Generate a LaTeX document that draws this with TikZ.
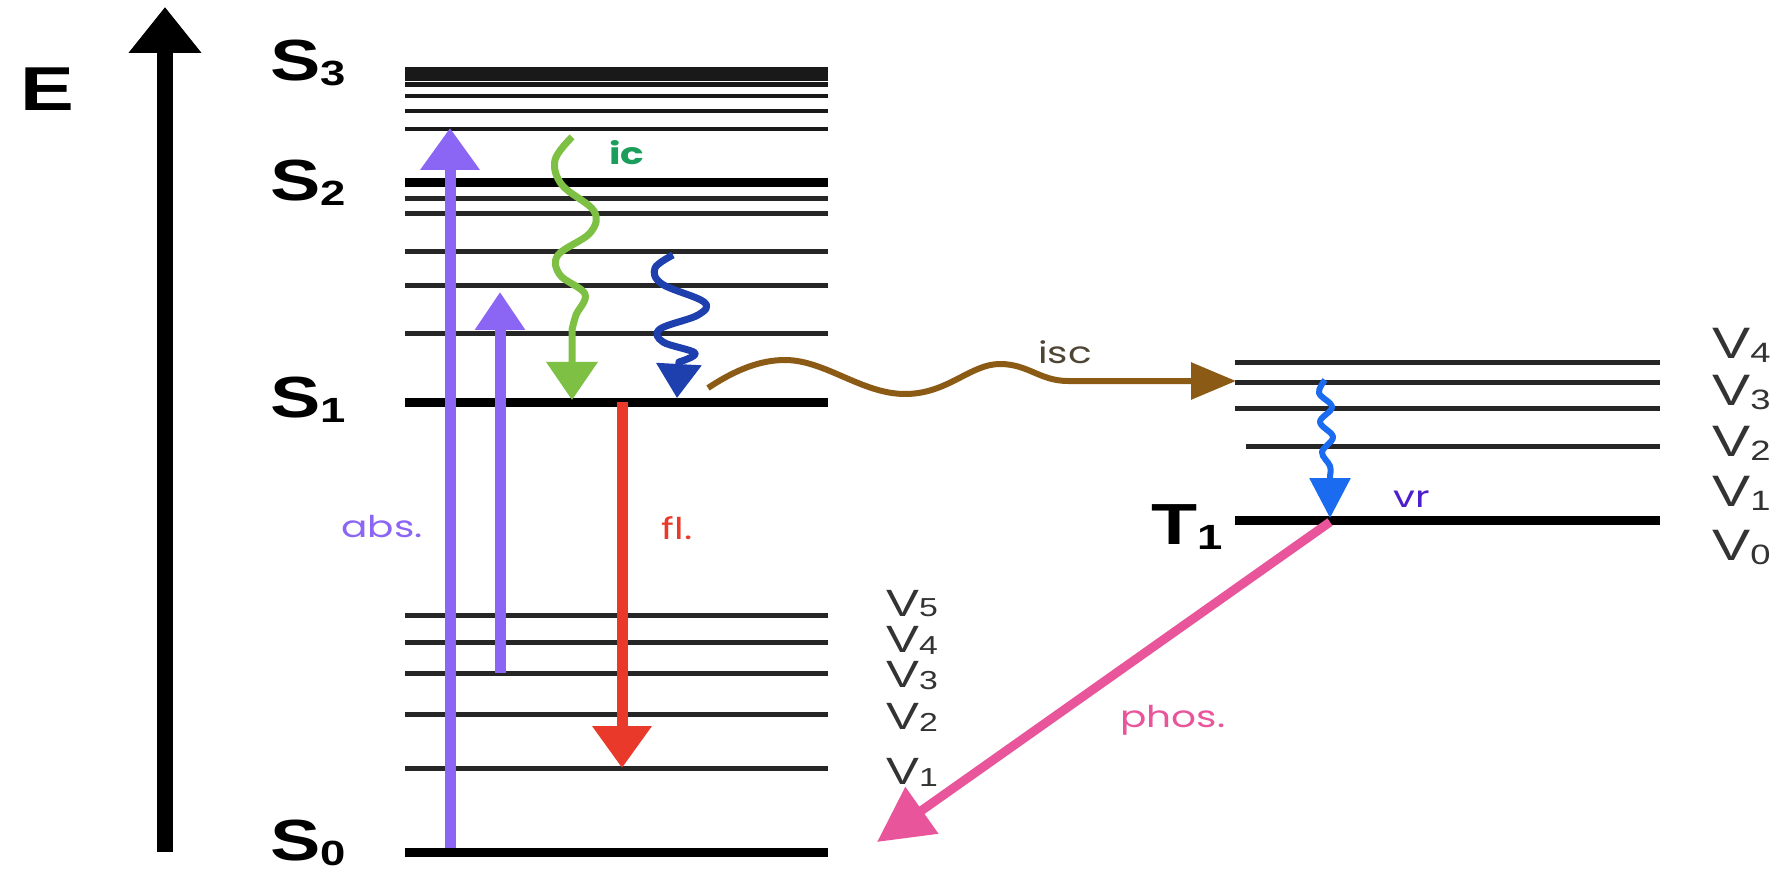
\documentclass[tikz,border=0pt]{standalone}
\usepackage{fontspec}
\setmainfont{Liberation Sans}
\newfontfamily\labfont{Poppins}
\usetikzlibrary{arrows.meta}
\definecolor{absc}{HTML}{8B66F5}
\definecolor{icw}{HTML}{7DC043}
\definecolor{ict}{HTML}{1B9E5B}
\definecolor{dblue}{HTML}{1E3FAE}
\definecolor{flc}{HTML}{E8392A}
\definecolor{iscc}{HTML}{8B5A14}
\definecolor{isct}{HTML}{4F4535}
\definecolor{vrw}{HTML}{1A6BF0}
\definecolor{vrt}{HTML}{4D1FCC}
\definecolor{phc}{HTML}{E8559A}
\definecolor{vgray}{HTML}{333333}
\newcommand{\st}[1]{\scalebox{1.3}[1]{#1}}
\newcommand{\Slab}[2]{\st{\fontsize{58}{58}\selectfont\bfseries #1\raisebox{-5pt}{\fontsize{35}{35}\selectfont #2}}}
\newcommand{\Vlab}[2][-4pt]{\st{\fontsize{44}{44}\selectfont V\raisebox{#1}{\fontsize{28}{28}\selectfont #2}}}
\newcommand{\Vlabs}[2][-2pt]{\st{\fontsize{38}{38}\selectfont V\raisebox{#1}{\fontsize{26}{26}\selectfont #2}}}
\newcommand{\smlab}[1]{\st{\labfont\fontsize{30}{30}\selectfont #1}}
\tikzset{
  lvl/.style={line width=9pt, black},
  sub/.style={line width=5pt, black!85},
  lab/.style={inner sep=0pt, outer sep=0pt},
  vlab/.style={inner sep=0pt, anchor=west, text=vgray},
  wave/.style={line join=round, line cap=butt},
}
\begin{document}
\begin{tikzpicture}[x=1pt,y=-1pt]
\useasboundingbox[fill=white] (0,0) rectangle (1785,874);

% energy axis
\coordinate (Ebot) at (165,852);
\coordinate (Etop) at (165,7);
\draw[line width=16pt, -{Triangle[width=70pt,length=46pt]}] (Ebot) -- (Etop);
\node[lab] (E) at (47,89) {\st{\fontsize{62}{62}\selectfont\bfseries E}};

% left stack: S3 block
\foreach \y/\w in {71/8,78/7,85/5,96/4.5,111/4.5,129/4.5}
  \draw[line width=\w pt, black!90] (405,\y) -- (828,\y);
% S2 block
\draw[lvl] (405,183) coordinate (S2L) -- (828,183) coordinate (S2R);
\foreach \y in {199,214,252,286,334}
  \draw[sub] (405,\y) -- (828,\y);
% S1
\draw[lvl] (405,402) coordinate (S1L) -- (828,402) coordinate (S1R);
% S0 block
\foreach \y in {615,642,673,714,768}
  \draw[sub] (405,\y) -- (828,\y);
\draw[lvl] (405,852) coordinate (S0L) -- (828,852) coordinate (S0R);

% S labels
\node[lab] (s3) at (308,63) {\Slab{S}{3}};
\node[lab] (s2) at (308,183) {\Slab{S}{2}};
\node[lab] (s1) at (308,400) {\Slab{S}{1}};
\node[lab] (s0) at (308,843) {\Slab{S}{0}};

% left vibrational labels
\node[vlab] (lv5) at (886,604) {\Vlabs[0pt]{5}};
\node[vlab] (lv4) at (886,640) {\Vlabs{4}};
\node[vlab] (lv3) at (886,676) {\Vlabs{3}};
\node[vlab] (lv2) at (886,717) {\Vlabs{2}};
\node[vlab] (lv1) at (886,772) {\Vlabs{1}};

% right stack
\foreach \y in {363,382,408}
  \draw[sub] (1235,\y) -- (1660,\y);
\draw[sub] (1246,446) -- (1660,446);
\draw[lvl] (1235,520) coordinate (T1L) -- (1660,520) coordinate (T1R);
\node[lab] (t1) at (1187,527) {\Slab{T}{1}};

% right vibrational labels
\node[vlab] (rv4) at (1712,345) {\Vlab{4}};
\node[vlab] (rv3) at (1712,393) {\Vlab{3}};
\node[vlab] (rv2) at (1712,443) {\Vlab{2}};
\node[vlab] (rv1) at (1712,493) {\Vlab{1}};
\node[vlab] (rv0) at (1712,547) {\Vlab{0}};

% absorption arrows
\coordinate (a1s) at (450,848);
\coordinate (a1e) at (450,128);
\draw[absc, line width=11pt, -{Triangle[width=57pt,length=42pt]}] (a1s) -- (a1e);
\coordinate (a2s) at (500,673);
\coordinate (a2e) at (500,292);
\draw[absc, line width=11pt, -{Triangle[width=48pt,length=38pt]}] (a2s) -- (a2e);
\node[lab, text=absc] (abs) at (382,527) {\smlab{abs.}};

% internal conversion (green)
\coordinate (icS) at (572,137);
\coordinate (icE) at (572,400);
\draw[icw, wave, line width=7pt, -{Triangle[width=50pt,length=38pt]}]
  plot[smooth, tension=0.6] coordinates {(icS) (555,160) (562,185) (594,211) (590,233) (558,255) (560,275) (585,294) (576,315) (572,330)} -- (icE);
\node[lab, text=ict] (ic) at (627,153) {\smlab{\bfseries ic}};

% vibrational relaxation S (dark blue)
\coordinate (vbS) at (673,255);
\coordinate (vbE) at (677,398);
\draw[dblue, wave, line width=7pt, -{Triangle[width=44pt,length=34pt]}]
  plot[smooth, tension=0.6] coordinates {(vbS) (655,268) (662,284) (704,302) (698,315) (660,329) (663,342) (695,353) (679,362)} -- (vbE);

% fluorescence
\coordinate (fs) at (622,402);
\coordinate (fe) at (622,768);
\draw[flc, line width=11pt, -{Triangle[width=57pt,length=42pt]}] (fs) -- (fe);
\node[lab, text=flc] (fl) at (677,528) {\smlab{fl.}};

% intersystem crossing
\coordinate (iscS) at (708,388);
\coordinate (iscE) at (1236,381);
\draw[iscc, wave, line width=6pt, -{Triangle[width=36pt,length=45pt]}]
  (iscS) .. controls (735,370) and (760,360) .. (785,360)
         .. controls (825,360) and (862,394) .. (905,394)
         .. controls (948,394) and (970,364) .. (1000,364)
         .. controls (1028,364) and (1040,381) .. (1068,381)
         -- (iscE);
\node[lab, text=isct] (isc) at (1065,352) {\smlab{isc}};

% vibrational relaxation T (blue)
\coordinate (vrS) at (1325,380);
\coordinate (vrE) at (1330,518);
\draw[vrw, wave, line width=6pt, -{Triangle[width=40pt,length=40pt]}]
  plot[smooth, tension=0.6] coordinates {(vrS) (1319,393) (1332,407) (1320,422) (1333,437) (1322,452) (1330,466) (1330,476)} -- (vrE);
\node[lab, text=vrt] (vr) at (1412,499) {\smlab{vr}};

% phosphorescence
\coordinate (ps) at (1330,522);
\coordinate (pe) at (877,842);
\draw[phc, line width=9pt, -{Triangle[width=55pt,length=55pt]}] (ps) -- (pe);
\node[lab, text=phc] (phos) at (1173,720) {\smlab{phos.}};
\end{tikzpicture}
\end{document}
